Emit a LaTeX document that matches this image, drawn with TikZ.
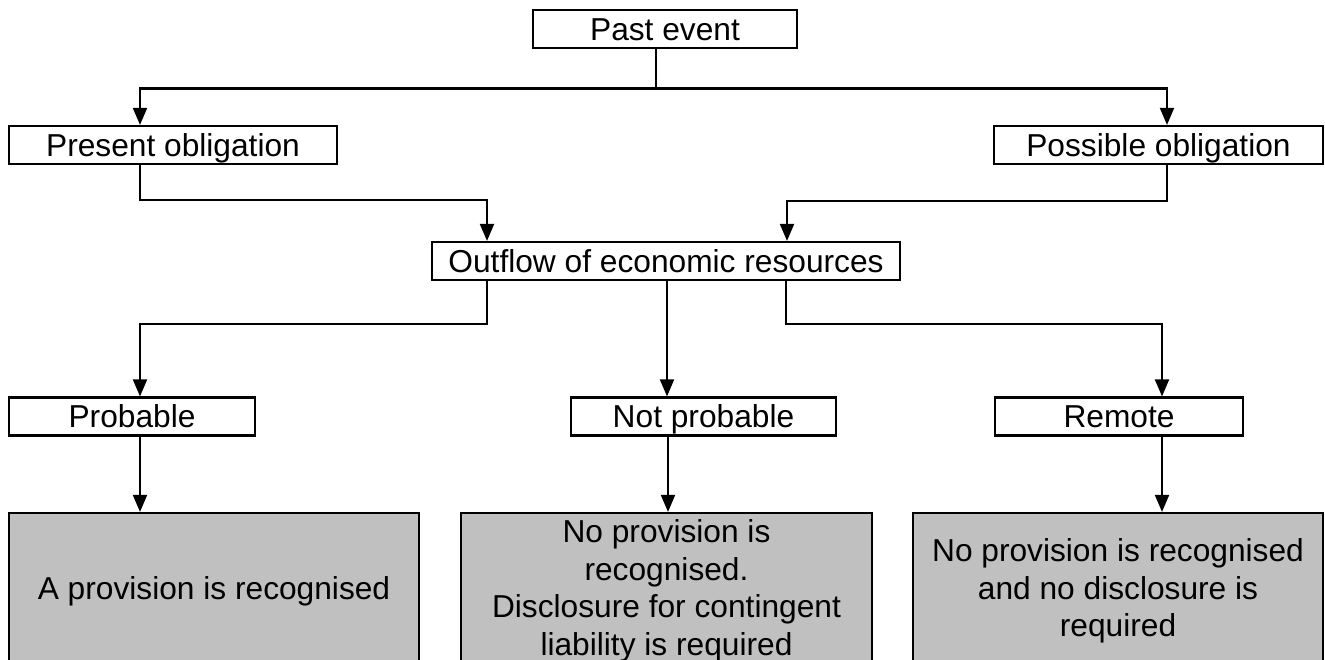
\documentclass[tikz,border=0pt]{standalone}
\usepackage{fontspec}
\setmainfont{Liberation Sans}
\usetikzlibrary{arrows.meta}
\definecolor{gris}{RGB}{192,192,192}

\begin{document}
\begin{tikzpicture}[x=1pt,y=-1pt,>={Triangle[length=17pt,width=14pt]},
  font=\fontsize{31.7}{37.5}\selectfont,
  boite/.style={draw,line width=2.2pt,inner sep=0pt,minimum height=38pt,
    text height=22pt,text depth=0pt},
  resultat/.style={draw,line width=2.2pt,fill=gris,inner sep=0pt,
    minimum height=156pt,align=center},
  lien/.style={line width=2pt}]
  \useasboundingbox (0,0) rectangle (1325,659);
  \clip (0,0) rectangle (1325,659);

  % niveaux
  \node[boite,minimum width=264pt] (past) at (665,29) {Past event};
  \node[boite,minimum width=328pt] (present) at (173,145) {Present obligation};
  \node[boite,minimum width=329pt] (possible) at (1158.5,145) {Possible obligation};
  \node[boite,minimum width=468pt] (outflow) at (666,261) {Outflow of economic resources};
  \node[boite,minimum width=246pt] (probable) at (132,416.5) {Probable};
  \node[boite,minimum width=265pt] (notprob) at (703.5,416.5) {Not probable};
  \node[boite,minimum width=248pt] (remote) at (1119,416.5) {Remote};

  % resultats
  \node[resultat,minimum width=410pt] (res1) at (214,591) {A provision is recognised};
  \node[resultat,minimum width=411pt] (res2) at (666.5,591)
    {No provision is\\recognised.\\Disclosure for contingent\\liability is required};
  \node[resultat,minimum width=410pt] (res3) at (1118,591)
    {No provision is recognised\\and no disclosure is\\required};

  % liens
  \draw[lien] ([xshift=-9pt]past.south) -- ++(0,39) coordinate (j1);
  \draw[lien,->] (j1) -| coordinate[pos=.5] (c1) ([xshift=-33pt]present.north);
  \draw[lien,->] (j1) -| coordinate[pos=.5] (c2) ([xshift=8.5pt]possible.north);
  \draw[lien,line width=3pt] (c1) -- (c2);
  \draw[lien,->] ([xshift=-33pt]present.south) -- ++(0,35) -| ([xshift=-179pt]outflow.north);
  \draw[lien,->] ([xshift=8.5pt]possible.south) -- ++(0,36) -| ([xshift=121pt]outflow.north);
  \draw[lien,->] ([xshift=-179pt]outflow.south) -- ++(0,43) -| ([xshift=8pt]probable.north);
  \draw[lien,->] ([xshift=1pt]outflow.south) -- ([xshift=-36.5pt]notprob.north);
  \draw[lien,->] ([xshift=120pt]outflow.south) -- ++(0,43) -| ([xshift=43pt]remote.north);
  \draw[lien,->] ([xshift=8pt]probable.south) -- ([xshift=-74pt]res1.north);
  \draw[lien,->] ([xshift=-35.5pt]notprob.south) -- ([xshift=1.5pt]res2.north);
  \draw[lien,->] ([xshift=43pt]remote.south) -- ([xshift=44pt]res3.north);
\end{tikzpicture}
\end{document}
